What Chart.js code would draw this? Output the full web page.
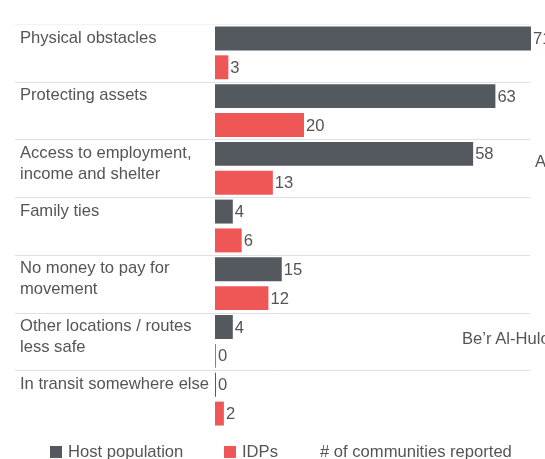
<!DOCTYPE html>
<html>
<head>
<meta charset="utf-8">
<script src="https://cdn.jsdelivr.net/npm/chart.js@4"></script>
<style>
  html, body { margin: 0; padding: 0; background: #fff; overflow: hidden; }
  #wrap { position: relative; width: 545px; height: 459px; overflow: hidden; font-family: "Liberation Sans", Arial, sans-serif; color: #555; }
  canvas { position: absolute; left: 0; top: 0; }
  .note { position: absolute; font-size: 16.6px; line-height: 19px; white-space: nowrap; color: #555; }
  .legend { position: absolute; top: 442px; font-size: 16.6px; line-height: 19px; white-space: nowrap; color: #555; }
  .legend i { display: inline-block; width: 12px; height: 12px; margin-right: 6px; vertical-align: -1px; }
</style>
</head>
<body>
<div id="wrap">
  <canvas id="chart" width="545" height="459"></canvas>
  <div class="note" style="left:535px; top:152px;">A</div>
  <div class="note" style="left:462px; top:329px;">Be’r Al-Hulo</div>
  <div class="legend" style="left:50px;"><i style="background:#53595f"></i>Host population</div>
  <div class="legend" style="left:224px;"><i style="background:#ef5757"></i>IDPs</div>
  <div class="legend" style="left:320px;"># of communities reported</div>
</div>
<script>
const categories = [
    ['Physical obstacles'],
    ['Protecting assets'],
    ['Access to employment,', 'income and shelter'],
    ['Family ties'],
    ['No money to pay for', 'movement'],
    ['Other locations / routes', 'less safe'],
    ['In transit somewhere else']
]
const hostValues = [71, 63, 58, 4, 15, 4, 0]
const idpValues = [3, 20, 13, 6, 12, 0, 2]

const textColor = '#555'
const font = '16.6px "Liberation Sans", Arial, sans-serif'

// row separators, category text and value labels
const rowPlugin = {
    id: 'rows',
    beforeDatasetsDraw(chart) {
        const c = chart.ctx
        const y = chart.scales.y
        const step = y.getPixelForValue(1) - y.getPixelForValue(0)
        c.save()
        c.lineWidth = 1
        for (let i = 0; i < categories.length; i++) {
            const top = Math.round(y.getPixelForValue(i) - step / 2) + 0.5
            c.strokeStyle = i === 0 ? '#f3f3f3' : '#e0e0e0'
            c.beginPath()
            c.moveTo(15, top)
            c.lineTo(530, top)
            c.stroke()
        }
        c.fillStyle = textColor
        c.font = font
        c.textBaseline = 'middle'
        c.textAlign = 'left'
        categories.forEach((lines, i) => {
            const top = y.getPixelForValue(i) - step / 2
            lines.forEach((t, j) => c.fillText(t, 20, top + 14 + j * 21))
        })
        c.restore()
    },
    afterDatasetsDraw(chart) {
        const c = chart.ctx
        c.save()
        c.fillStyle = textColor
        c.font = font
        c.textBaseline = 'middle'
        c.textAlign = 'left'
        chart.data.datasets.forEach((ds, di) => {
            chart.getDatasetMeta(di).data.forEach((bar, i) => {
                c.fillText(ds.data[i], bar.x + 2, bar.y + 1)
            })
        })
        c.restore()
    }
}

new Chart(document.getElementById('chart'), {
    type: 'bar',
    data: {
        labels: categories.map(l => l.join(' ')),
        datasets: [{
            label: 'Host population',
            data: hostValues,
            backgroundColor: '#53595f',
            categoryPercentage: 1,
            barPercentage: 0.83,
            minBarLength: 1
        }, {
            label: 'IDPs',
            data: idpValues,
            backgroundColor: '#ef5757',
            categoryPercentage: 1,
            barPercentage: 0.83,
            minBarLength: 1
        }]
    },
    options: {
        indexAxis: 'y',
        responsive: false,
        animation: false,
        layout: { padding: { left: 215, right: 14, top: 24, bottom: 31 } },
        plugins: { legend: { display: false }, tooltip: { enabled: false } },
        scales: {
            x: { display: false, min: 0, max: 71 },
            y: { display: false }
        }
    },
    plugins: [rowPlugin]
})
</script>
</body>
</html>
